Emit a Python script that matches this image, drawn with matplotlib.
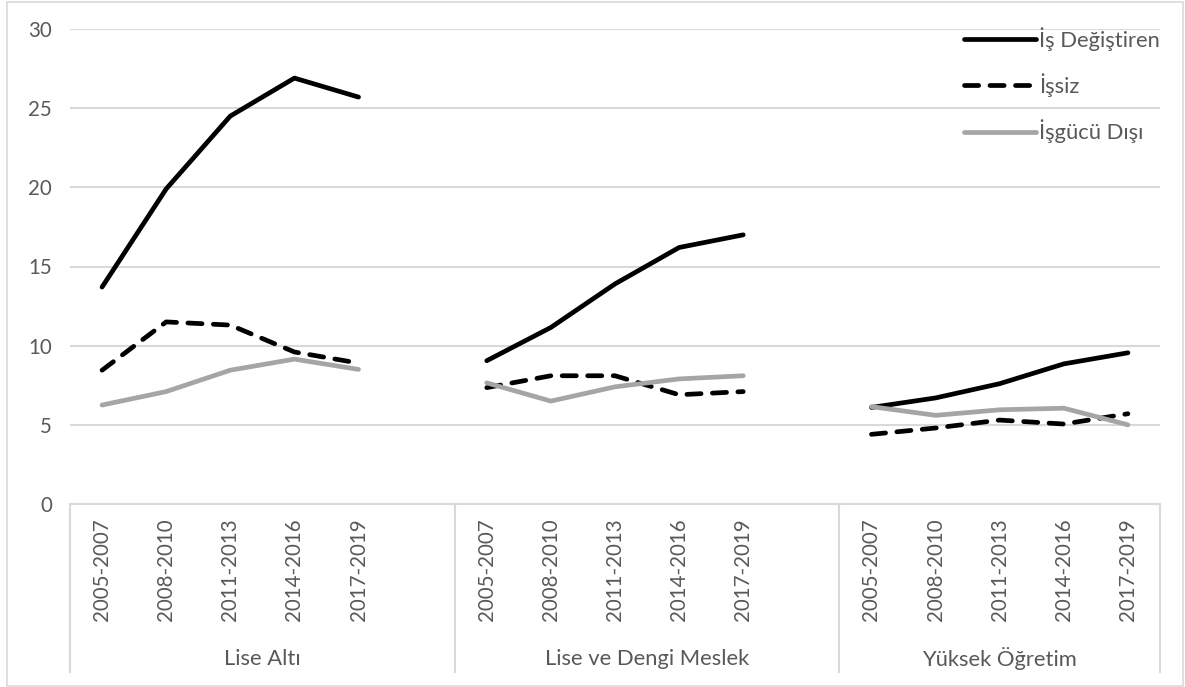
import numpy as np
import matplotlib
matplotlib.use("Agg")
import matplotlib.pyplot as plt
from matplotlib.patches import Rectangle

plt.rcParams['font.family'] = ['Lato', 'DejaVu Sans']

groups = ['Lise Altı', 'Lise ve Dengi Meslek', 'Yüksek Öğretim']
periods = ['2005-2007', '2008-2010', '2011-2013', '2014-2016', '2017-2019']

is_degistiren = [[13.7, 19.9, 24.5, 26.9, 25.7],
                 [9.05, 11.15, 13.9, 16.2, 17.0],
                 [6.1, 6.7, 7.6, 8.85, 9.55]]
issiz = [[8.45, 11.5, 11.3, 9.6, 8.9],
         [7.35, 8.1, 8.1, 6.9, 7.1],
         [4.4, 4.8, 5.3, 5.05, 5.7]]
isgucu_disi = [[6.25, 7.1, 8.45, 9.15, 8.5],
               [7.65, 6.5, 7.4, 7.9, 8.1],
               [6.15, 5.6, 5.95, 6.05, 5.0]]
series_names = ['İş Değiştiren', 'İşsiz', 'İşgücü Dışı']

W, H = 1185, 687
fig = plt.figure(figsize=(W / 100, H / 100), dpi=100)
L, R, T, B = 70, 1160, 29, 504
ax = fig.add_axes([L / W, 1 - B / H, (R - L) / W, (B - T) / H])

TXT = '#595959'
GRID = '#D9D9D9'
FS_NUM = 14.8
FS_TXT = 15.8


def with_gaps(data):
    out = []
    for gi, g in enumerate(data):
        out.extend(g)
        if gi < len(data) - 1:
            out.append(np.nan)
    return np.array(out, dtype=float)


n = len(periods)
xs = np.arange(len(groups) * (n + 1) - 1)

styles = [dict(color='black', lw=3.4, ls='-', solid_capstyle='round'),
          dict(color='black', lw=3.4, dashes=(3.0, 2.4), dash_capstyle='round'),
          dict(color='#A5A5A5', lw=3.4, ls='-', solid_capstyle='round')]
for data, name, st in zip([is_degistiren, issiz, isgucu_disi], series_names, styles):
    ax.plot(xs, with_gaps(data), label=name, **st)

ax.set_xlim(-0.5, xs[-1] + 0.5)
ax.set_ylim(0, 30)
ax.set_yticks(np.arange(0, 31, 5))
ax.yaxis.grid(True, color=GRID, lw=1.5)
ax.set_axisbelow(True)
for s in ax.spines.values():
    s.set_visible(False)
ax.tick_params(axis='y', length=0, pad=13, labelsize=FS_NUM, labelcolor=TXT)
ax.set_xticks([])

trans = ax.get_xaxis_transform()
ybox_bottom = -(672 - B) / (B - T)
ax.plot([-0.5, xs[-1] + 0.5], [0, 0], color=GRID, lw=1.5, transform=trans, clip_on=False)
seps = [-0.5] + [gi * (n + 1) - 0.5 for gi in range(1, len(groups))] + [xs[-1] + 0.5]
for sx in seps:
    ax.plot([sx, sx], [0, ybox_bottom], color=GRID, lw=1.5, transform=trans, clip_on=False)

lab_top = -(518 - B) / (B - T)
grp_y = -(659 - B) / (B - T)
for gi, g in enumerate(groups):
    for pi, p in enumerate(periods):
        ax.text(gi * (n + 1) + pi, lab_top, p, rotation=90, ha='center', va='top',
                fontsize=FS_NUM, color=TXT, transform=trans)
    xc = (seps[gi] + seps[gi + 1]) / 2
    ax.text(xc, grp_y, g, ha='center', va='center', fontsize=FS_TXT, color=TXT, transform=trans)

leg = fig.legend(loc='upper left', bbox_to_anchor=(964 / W, 1 - 27 / H), frameon=False,
                 fontsize=FS_TXT, handlelength=3.3, handletextpad=0.12, labelspacing=1.02,
                 borderpad=0, borderaxespad=0)
for t in leg.get_texts():
    t.set_color(TXT)

fig.patches.append(Rectangle((7 / W, 1 / H), (1183 - 7) / W, (686 - 2) / H, transform=fig.transFigure,
                             fill=False, edgecolor=GRID, lw=1.2))

fig.savefig('out.png', dpi=100)
